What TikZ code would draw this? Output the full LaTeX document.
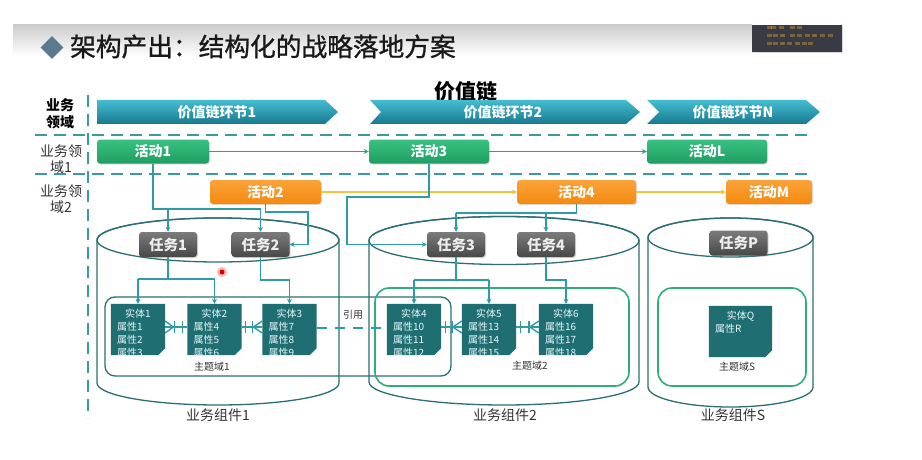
\documentclass[tikz,border=0pt]{standalone}
\usepackage{fontspec}
\setmainfont{Noto Sans CJK SC}
\newfontfamily\titlefont[FakeBold=1]{Noto Sans CJK SC}
\usetikzlibrary{arrows.meta,calc,shadows,shapes.geometric}

\definecolor{conc}{HTML}{2F9CA3}
\definecolor{cyl}{HTML}{2B6F73}
\definecolor{dashc}{HTML}{3A9A9C}
\definecolor{vctop}{HTML}{45BDD2}
\definecolor{vcbot}{HTML}{17798E}
\definecolor{grtop}{HTML}{38C282}
\definecolor{grbot}{HTML}{219C62}
\definecolor{ortop}{HTML}{FBA33A}
\definecolor{orbot}{HTML}{F38A10}
\definecolor{tktop}{HTML}{7B7B7B}
\definecolor{tkbot}{HTML}{484848}
\definecolor{entc}{HTML}{1F6E72}
\definecolor{domg}{HTML}{2FAE7A}
\definecolor{glink}{HTML}{2CA57A}
\definecolor{ylink}{HTML}{F5C342}
\definecolor{diam}{HTML}{5B7A8C}
\definecolor{darkbox}{HTML}{383B44}
\definecolor{txtgray}{HTML}{333333}

\newcommand\entbox[6]{%
  \node[entity, minimum width=#4] (#1) at (#2,#3) {};
  \fill[entc] (#1.north west) -- (#1.north east) -- ([yshift=7pt]#1.south east)
     -- ([xshift=-7pt]#1.south east) -- (#1.south west) -- cycle;
  \node[enttxt] (#1t) at ($(#1.north)+(0,10)$) {#5};
  \begin{scope}
    \clip (#1.north west) rectangle (#1.south east);
    \foreach \a [count=\i] in {#6} {
      \node[enttxt, anchor=west] (#1a\i) at ($(#1.north west)+(6,10+13*\i)$) {\a};
    }
  \end{scope}
}
\newcommand\erR[2]{%
  \draw[conn] ([yshift=2.5pt]#1.east) -- ([yshift=2.5pt]#2.west);
  \draw[conn] ([xshift=4pt,yshift=8.5pt]#1.east) -- ([xshift=4pt,yshift=-3.5pt]#1.east);
  \draw[conn] ([xshift=-10pt,yshift=8.5pt]#2.west) -- ([xshift=-10pt,yshift=-3.5pt]#2.west);
  \draw[conn] ([yshift=8.5pt]#2.west) -- ([xshift=-9pt,yshift=2.5pt]#2.west) -- ([yshift=-3.5pt]#2.west);
}
\newcommand\erL[2]{%
  \draw[conn] ([yshift=2.5pt]#1.east) -- ([yshift=2.5pt]#2.west);
  \draw[conn] ([yshift=8.5pt]#1.east) -- ([xshift=8pt,yshift=2.5pt]#1.east) -- ([yshift=-3.5pt]#1.east);
  \draw[conn] ([xshift=9pt,yshift=8.5pt]#1.east) -- ([xshift=9pt,yshift=-3.5pt]#1.east);
  \draw[conn] ([xshift=-5pt,yshift=8.5pt]#2.west) -- ([xshift=-5pt,yshift=-3.5pt]#2.west);
}

\begin{document}
\begin{tikzpicture}[x=1pt,y=-1pt,
  vcshape/.style={top color=vctop, bottom color=vcbot, draw=none},
  vctext/.style={text=white, font=\bfseries\fontsize{14}{14}\selectfont, inner sep=0},
  act/.style={rounded corners=3pt, minimum height=24pt, inner sep=0, text=white,
     font=\bfseries\fontsize{14}{14}\selectfont,
     drop shadow={opacity=0.25, shadow xshift=1pt, shadow yshift=-1.2pt}},
  actg/.style={act, top color=grtop, bottom color=grbot},
  acto/.style={act, top color=ortop, bottom color=orbot},
  task/.style={rounded corners=3pt, minimum width=58pt, minimum height=25pt, inner sep=0,
     top color=tktop, bottom color=tkbot, text=white!93!black,
     font=\bfseries\fontsize{14.5}{14.5}\selectfont,
     drop shadow={opacity=0.3, shadow xshift=1pt, shadow yshift=-1.2pt}},
  conn/.style={draw=conc, line width=1.4pt},
  arr/.style={conn, -{Stealth[length=5pt,width=5pt]}},
  glinksty/.style={draw=glink, line width=1.4pt, -{Stealth[length=5pt,width=5pt]}},
  ylinksty/.style={draw=ylink, line width=1.4pt, -{Stealth[length=5pt,width=5pt]}},
  dashline/.style={draw=dashc, line width=1.8pt, dash pattern=on 12pt off 7pt},
  cylline/.style={draw=cyl, line width=1.3pt},
  entity/.style={minimum height=51pt, inner sep=0, draw=none},
  enttxt/.style={text=white!90!cyan, font=\fontsize{10}{12}\selectfont, inner sep=0},
  dom1sty/.style={draw=cyl, line width=1.3pt, rounded corners=10pt, inner sep=0},
  dom2sty/.style={draw=domg, line width=1.6pt, rounded corners=14pt, inner sep=0},
  lbl/.style={text=txtgray, font=\fontsize{10}{10}\selectfont, inner sep=0},
  leftlbl/.style={align=center, text=txtgray, font=\fontsize{14}{16}\selectfont, inner sep=0},
  complbl/.style={text=txtgray, font=\fontsize{14}{14}\selectfont, inner sep=0},
  blur/.style={fill=ylink!80!orange, opacity=0.35}
]
\useasboundingbox (0,0) rectangle (922,460);
\fill[white] (0,0) rectangle (922,460);

% top band, title
\shade[top color=black!20, bottom color=white] (13,25) rectangle (752,56);
\node[diamond, fill=diam, minimum width=23pt, minimum height=23pt, inner sep=0] (dm) at (52,47.5) {};
\node[anchor=west, font=\titlefont\fontsize{25.7}{26}\selectfont, text=black!90, inner sep=0] (title) at (70,46.5) {架构产出：结构化的战略落地方案};

% dark overlay box top right
\fill[darkbox, drop shadow={opacity=0.3, shadow xshift=1pt, shadow yshift=-1.5pt}] (752,25) rectangle (842,52);
\foreach \yy/\xs in {26.5/{767,771,779,790,797}, 34.5/{767,773,780,790,797,805,812,820,828}, 42/{767,773,780,787,795,802,808}} {
  \foreach \xx in \xs { \fill[blur] (\xx,\yy) rectangle ++(5,3); }
}

% value chain heading
\node[font=\bfseries\fontsize{21}{21}\selectfont, inner sep=0] (vch) at (466,92) {价值链};

% left labels
\node[leftlbl, text=black, font=\bfseries\fontsize{14}{17}\selectfont] (ld0) at (60,114) {业务\\领域};
\node[leftlbl] (ld1) at (61,159) {业务领\\域1};
\node[leftlbl] (ld2) at (61,199) {业务领\\域2};

% dashed separators
\draw[dashline] (88,95) -- (88,418);
\draw[dashline] (35,135) -- (812,135);
\draw[dashline] (35,174) -- (812,174);

% value chain chevrons
\path[vcshape] (97,100) -- (325,100) -- (338,112) -- (325,124) -- (97,124) -- cycle;
\path[vcshape] (370,100) -- (626,100) -- (640,112) -- (626,124) -- (370,124) -- (381,112) -- cycle;
\path[vcshape] (647,100) -- (806,100) -- (820,112) -- (806,124) -- (647,124) -- (659,112) -- cycle;
\node[vctext] (vc1) at (217,112) {价值链环节1};
\node[vctext] (vc2) at (503,112) {价值链环节2};
\node[vctext] (vcN) at (733,112) {价值链环节N};

% activities
\node[actg, minimum width=112pt] (a1) at (153,151.5) {活动1};
\node[actg, minimum width=120pt] (a3) at (429,151.5) {活动3};
\node[actg, minimum width=120pt] (aL) at (707,151.5) {活动L};
\node[acto, minimum width=111pt] (a2) at (265.5,192) {活动2};
\node[acto, minimum width=119pt] (a4) at (576.5,192) {活动4};
\node[acto, minimum width=86pt] (aM) at (769,192) {活动M};
\draw[glinksty] (a1.east) -- (a3.west);
\draw[glinksty] (a3.east) -- (aL.west);
\draw[ylinksty] (a2.east) -- (a4.west);
\draw[ylinksty] (a4.east) -- (aM.west);

% cylinders
\filldraw[cylline, fill=white] (97,240) -- (97,383)
  arc[start angle=180, end angle=360, x radius=121pt, y radius=22pt] -- (339,240)
  arc[start angle=0, end angle=180, x radius=121pt, y radius=22pt] -- cycle;
\draw[cylline] (218,240) ellipse [x radius=121pt, y radius=22pt];
\filldraw[cylline, fill=white] (369,240.5) -- (369,382)
  arc[start angle=180, end angle=360, x radius=135pt, y radius=23pt] -- (639,240.5)
  arc[start angle=0, end angle=180, x radius=135pt, y radius=24pt] -- cycle;
\draw[cylline] (504,240.5) ellipse [x radius=135pt, y radius=24pt];
\filldraw[cylline, fill=white] (648,237.5) -- (648,387)
  arc[start angle=180, end angle=360, x radius=82.5pt, y radius=20pt] -- (813,237.5)
  arc[start angle=0, end angle=180, x radius=82.5pt, y radius=19.5pt] -- cycle;
\draw[cylline] (730.5,237.5) ellipse [x radius=82.5pt, y radius=19.5pt];

% subject domains
\node[dom1sty, minimum width=346pt, minimum height=79pt] (dom1) at (278,336.5) {};
\node[dom2sty, minimum width=254pt, minimum height=98pt] (dom2) at (502,337) {};
\node[dom2sty, minimum width=148pt, minimum height=98pt] (domS) at (732,337) {};
\node[lbl] (dom1l) at (212,367) {主题域1};
\node[lbl] (dom2l) at (530,366) {主题域2};
\node[lbl] (domSl) at (737,367) {主题域S};
\node[lbl] (ref) at (353,315) {引用};

% entities
\entbox{e1}{138}{329.5}{54pt}{实体1}{属性1,属性2,属性3}
\entbox{e2}{214.5}{329.5}{54pt}{实体2}{属性4,属性5,属性6}
\entbox{e3}{289.5}{329.5}{54pt}{实体3}{属性7,属性8,属性9}
\entbox{e4}{414}{329.5}{54pt}{实体4}{属性10,属性11,属性12}
\entbox{e5}{489}{329.5}{54pt}{实体5}{属性13,属性14,属性15}
\entbox{e6}{566}{329.5}{54pt}{实体6}{属性16,属性17,属性18}
\entbox{eQ}{740.5}{331.5}{63pt}{实体Q}{属性R}

% entity relations
\erL{e1}{e2}
\erR{e2}{e3}
\erR{e4}{e5}
\erR{e5}{e6}
\draw[conn, dash pattern=on 10pt off 8pt] ([yshift=1.5pt]e3.east) -- ([yshift=1.5pt]e4.west);

% tasks
\node[task] (t1) at (168,244.5) {任务1};
\node[task] (t2) at (260.5,244.5) {任务2};
\node[task] (t3) at (456,244.5) {任务3};
\node[task] (t4) at (546,244.5) {任务4};
\node[task] (tP) at (738.5,243) {任务P};

% helper levels
\coordinate (y209) at (0,209);
\coordinate (y213) at (0,213);
\coordinate (y279) at (0,279);
\coordinate (y280) at (0,280);
\coordinate (j2) at (308,212);
\coordinate (j3) at (347,197);

% activity -> task connectors
\draw[conn] (a1.south) -- (a1.south |- y209) -- (t2.north |- y209);
\draw[arr] (t1.north |- y209) -- (t1.north);
\draw[arr] (t2.north |- y209) -- (t2.north);
\draw[arr] (a2.south) |- (j2) |- (t2.east);
\draw[arr] (a3.south) |- (j3) |- (t3.west);
\draw[conn] (a4.south) -- (a4.south |- y213) -- (t3.north |- y213);
\draw[arr] (t3.north |- y213) -- (t3.north);
\draw[arr] (t4.north |- y213) -- (t4.north);

% task -> entity connectors
\draw[conn] (t1.south) -- (t1.south |- y279);
\draw[conn] (e1.north |- y279) -- (e2.north |- y279);
\draw[arr] (e1.north |- y279) -- (e1.north);
\draw[arr] (e2.north |- y279) -- (e2.north);
\draw[arr] (t2.south) -- (t2.south |- y280) -| (e3.north);
\draw[conn] (t3.south) -- (t3.south |- y280);
\draw[conn] (e4.north |- y280) -- (e5.north |- y280);
\draw[arr] (e4.north |- y280) -- (e4.north);
\draw[arr] (e5.north |- y280) -- (e5.north);
\draw[arr] (t4.south) -- (t4.south |- y280) -| (e6.north);

% component labels
\node[complbl] (bc1) at (218,415) {业务组件1};
\node[complbl] (bc2) at (505,415) {业务组件2};
\node[complbl] (bcS) at (733,415) {业务组件S};

% pointer dot
\fill[red!55!white, opacity=0.5] (222,272) circle (5pt);
\fill[red!85!black] (222,272) circle (2.5pt);
\end{tikzpicture}
\end{document}
